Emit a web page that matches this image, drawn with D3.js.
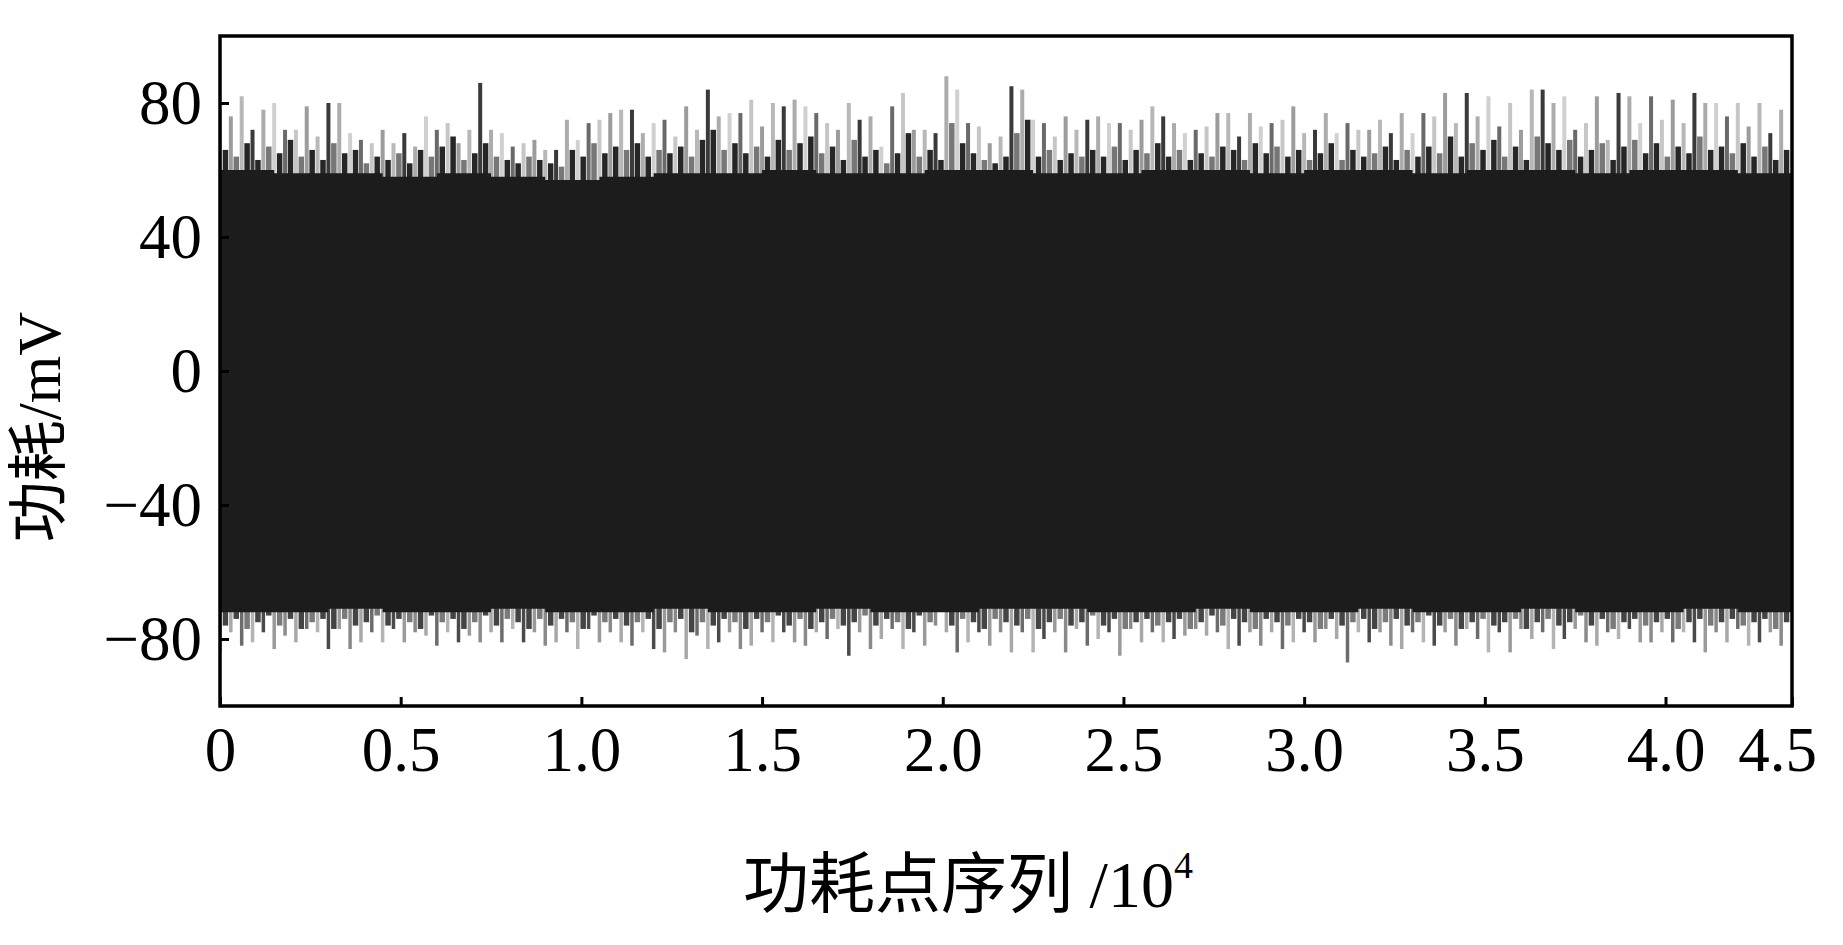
<!DOCTYPE html>
<html lang="zh">
<head>
<meta charset="utf-8">
<title>功耗曲线</title>
<script src="https://cdn.jsdelivr.net/npm/d3@7/dist/d3.min.js"></script>
<style>
  html, body { margin: 0; padding: 0; background: #fff; }
  svg text { font-family: "Liberation Serif", "Noto Sans CJK SC", serif; fill: #000; }
</style>
</head>
<body>
<svg id="chart"></svg>
<script>
// sample spacing of the envelope arrays, in units of 10^4 points
const step = 0.03,
  xMax = 4.35;

// upper spike tips (light) and dark fringe tips, mV
const topPeak = [78, 76, 82, 72, 78, 80, 72, 72, 79, 70, 80, 80, 71, 69, 68, 72, 68, 71, 67, 76,
  72, 74, 68, 72, 86, 72, 71, 67, 68, 69, 66, 66, 75, 69, 74, 75, 77, 78, 78, 71,
  74, 75, 70, 79, 72, 84, 76, 77, 77, 81, 73, 80, 79, 81, 79, 77, 74, 72, 80, 75,
  76, 67, 79, 83, 72, 72, 71, 88, 84, 74, 73, 68, 70, 85, 84, 75, 74, 70, 76, 72,
  75, 76, 74, 74, 72, 75, 79, 76, 74, 71, 72, 73, 77, 77, 70, 77, 73, 74, 75, 79,
  71, 72, 77, 71, 74, 72, 72, 75, 71, 77, 71, 77, 76, 83, 74, 83, 76, 82, 73, 80,
  72, 84, 84, 80, 82, 72, 74, 82, 69, 83, 82, 74, 82, 75, 81, 74, 83, 80, 80, 76,
  80, 73, 80, 71, 78];
const topMid = [66, 64, 68, 63, 67, 65, 69, 64, 66, 63, 68, 65, 66, 62, 64, 63, 65, 62, 66, 64,
  67, 70, 63, 65, 68, 64, 63, 62, 64, 63, 62, 61, 66, 64, 68, 65, 67, 66, 68, 64,
  66, 65, 67, 64, 69, 72, 66, 68, 65, 67, 64, 69, 66, 68, 70, 65, 67, 63, 69, 64,
  66, 62, 65, 71, 64, 66, 63, 74, 68, 65, 63, 62, 64, 71, 75, 64, 66, 63, 65, 64,
  66, 64, 67, 63, 66, 65, 68, 64, 66, 63, 65, 64, 67, 66, 63, 68, 65, 67, 64, 66,
  63, 65, 68, 63, 66, 64, 65, 67, 63, 66, 64, 67, 65, 70, 64, 68, 66, 69, 64, 67,
  63, 70, 68, 66, 69, 64, 66, 68, 63, 67, 69, 65, 68, 64, 67, 65, 70, 66, 67, 65,
  68, 64, 67, 63, 66];

// lower spike tips and dark fringe tips, mV
const botPeak = [-84, -78, -82, -81, -78, -83, -79, -81, -77, -78, -83, -77, -83, -81, -78, -81, -77, -81, -78, -79,
  -82, -78, -81, -79, -81, -78, -81, -77, -81, -78, -82, -81, -78, -83, -77, -81, -78, -81, -82, -78,
  -83, -84, -78, -86, -79, -83, -81, -78, -83, -82, -78, -81, -78, -81, -82, -78, -80, -77, -85, -78,
  -83, -80, -77, -83, -78, -82, -76, -78, -84, -81, -78, -82, -78, -84, -78, -84, -80, -78, -84, -77,
  -82, -80, -78, -85, -77, -81, -78, -81, -80, -79, -77, -79, -78, -83, -82, -78, -82, -78, -83, -81,
  -78, -81, -77, -80, -87, -78, -81, -78, -82, -83, -78, -81, -82, -78, -82, -77, -80, -84, -78, -84,
  -77, -80, -78, -83, -80, -77, -81, -82, -78, -80, -77, -81, -81, -78, -81, -78, -81, -84, -78, -81,
  -77, -82, -81, -78, -82];
const botMid = [-76, -74, -77, -75, -73, -76, -74, -77, -75, -74, -77, -74, -76, -75, -73, -76, -74, -75, -77, -73,
  -75, -74, -77, -75, -73, -76, -74, -75, -77, -74, -76, -74, -75, -77, -73, -75, -74, -76, -75, -74,
  -77, -75, -74, -78, -75, -76, -74, -75, -77, -74, -75, -73, -76, -74, -77, -75, -74, -76, -75, -73,
  -76, -74, -75, -77, -73, -75, -69, -76, -74, -75, -77, -74, -75, -76, -74, -77, -75, -74, -76, -75,
  -73, -76, -74, -77, -75, -74, -76, -75, -74, -77, -75, -73, -76, -74, -75, -77, -74, -75, -76, -74,
  -75, -77, -74, -76, -75, -74, -77, -75, -74, -76, -75, -73, -76, -74, -77, -75, -74, -76, -75, -74,
  -77, -75, -74, -76, -75, -73, -76, -74, -77, -75, -74, -76, -75, -74, -77, -75, -74, -76, -75, -74,
  -76, -75, -74, -77, -75];

// edges of the solid band, every 0.15 x 10^4 points
const bodyStep = 0.15;
const bodyTop = [60, 59, 59, 58, 59, 58, 57, 58, 59, 59, 60, 59, 59, 60, 60, 59, 59, 60, 60, 59,
  60, 60, 59, 60, 60, 59, 60, 60, 59, 60];
const bodyBottom = [-72, -72, -71, -72, -72, -71, -72, -72, -71, -72, -72, -71, -72, -72, -71, -71, -72, -72, -71, -72,
  -72, -71, -72, -72, -71, -72, -72, -71, -72, -72];

const yTicks = [-80, -40, 0, 40, 80];
const yTickLabels = ['\u221280', '\u221240', '0', '40', '80'];
const xTicks = [0, 0.5, 1.0, 1.5, 2.0, 2.5, 3.0, 3.5, 4.0, xMax];
const xTickLabels = ['0', '0.5', '1.0', '1.5', '2.0', '2.5', '3.0', '3.5', '4.0', '4.5'];

const W = 1843, H = 945,
  plot = {left: 220, right: 1792, top: 36, bottom: 706};

const svg = d3.select('#chart')
  .attr('width', W)
  .attr('height', H);

const x = d3.scaleLinear().domain([0, xMax]).range([plot.left, plot.right]);
const y = d3.scaleLinear().domain([-100, 100]).range([plot.bottom, plot.top]);

svg.append('clipPath').attr('id', 'clip')
  .append('rect')
  .attr('x', plot.left).attr('y', plot.top)
  .attr('width', plot.right - plot.left).attr('height', plot.bottom - plot.top);

const g = svg.append('g').attr('clip-path', 'url(#clip)');

const bodyAt = (arr, t) => arr[Math.min(arr.length - 1, Math.floor(t / bodyStep))];

const topTone = (i) => ['#c6c6c6', '#9c9c9c', '#b8b8b8', '#3a3a3a', '#acacac', '#d0d0d0', '#6a6a6a'][i % 7];
const botTone = (i) => ['#8a8a8a', '#a8a8a8', '#6c6c6c', '#b4b4b4', '#4a4a4a', '#9a9a9a'][i % 6];

// tall spikes above and below the band
g.append('g').selectAll('line')
  .data(topPeak)
  .enter().append('line')
  .attr('x1', (d, i) => x(i * step))
  .attr('x2', (d, i) => x(i * step))
  .attr('y1', (d, i) => y(bodyAt(bodyTop, i * step) - 4))
  .attr('y2', (d) => y(d))
  .attr('stroke', (d, i) => topTone(i))
  .attr('stroke-width', 4);

g.append('g').selectAll('line')
  .data(botPeak)
  .enter().append('line')
  .attr('x1', (d, i) => x(i * step))
  .attr('x2', (d, i) => x(i * step))
  .attr('y1', (d, i) => y(bodyAt(bodyBottom, i * step) + 4))
  .attr('y2', (d) => y(d))
  .attr('stroke', (d, i) => botTone(i))
  .attr('stroke-width', 3.5);

// dark fringe, between the tall spikes
g.append('g').selectAll('line')
  .data(topMid)
  .enter().append('line')
  .attr('x1', (d, i) => x((i + 0.5) * step))
  .attr('x2', (d, i) => x((i + 0.5) * step))
  .attr('y1', (d, i) => y(bodyAt(bodyTop, (i + 0.5) * step) - 4))
  .attr('y2', (d) => y(d))
  .attr('stroke', (d, i) => i % 3 === 1 ? '#777' : '#262626')
  .attr('stroke-width', 5.5);

g.append('g').selectAll('line')
  .data(botMid)
  .enter().append('line')
  .attr('x1', (d, i) => x((i + 0.5) * step))
  .attr('x2', (d, i) => x((i + 0.5) * step))
  .attr('y1', (d, i) => y(bodyAt(bodyBottom, (i + 0.5) * step) + 4))
  .attr('y2', (d) => y(d))
  .attr('stroke', (d, i) => i % 3 === 2 ? '#7a7a7a' : '#444')
  .attr('stroke-width', 5.5);

// solid band
const bandPts = bodyTop.map((v, i) => ({t: i * bodyStep, hi: v, lo: bodyBottom[i]}));
bandPts.push({t: xMax, hi: bodyTop[bodyTop.length - 1], lo: bodyBottom[bodyBottom.length - 1]});

g.append('path')
  .datum(bandPts)
  .attr('d', d3.area()
    .x((d) => x(Math.min(xMax, d.t)))
    .y0((d) => y(d.lo))
    .y1((d) => y(d.hi))
    .curve(d3.curveStepAfter))
  .attr('fill', '#1c1c1c');

// axes
const yAxis = svg.append('g')
  .attr('transform', `translate(${plot.left},0)`)
  .call(d3.axisLeft(y).tickValues(yTicks)
    .tickFormat((d, i) => yTickLabels[i])
    .tickSizeInner(-9).tickSizeOuter(0).tickPadding(18));

const xAxis = svg.append('g')
  .attr('transform', `translate(0,${plot.bottom})`)
  .call(d3.axisBottom(x).tickValues(xTicks)
    .tickFormat((d, i) => xTickLabels[i])
    .tickSizeInner(-9).tickSizeOuter(0).tickPadding(20));

[yAxis, xAxis].forEach((a) => {
  a.select('.domain').remove();
  a.selectAll('.tick line').attr('stroke', '#000').attr('stroke-width', 3);
  a.selectAll('.tick text')
    .attr('font-size', 63)
    .attr('font-family', 'Liberation Serif, serif')
    .attr('fill', '#000');
});

xAxis.selectAll('.tick')
  .filter((d) => d === xMax)
  .select('text').attr('dx', -15);

// frame
svg.append('rect')
  .attr('x', plot.left).attr('y', plot.top)
  .attr('width', plot.right - plot.left).attr('height', plot.bottom - plot.top)
  .attr('fill', 'none')
  .attr('stroke', '#000')
  .attr('stroke-width', 3.5);

// axis titles
svg.append('text')
  .attr('transform', `translate(60,${427}) rotate(-90)`)
  .attr('text-anchor', 'middle')
  .attr('font-size', 61)
  .text('功耗/mV');

const xt = svg.append('text')
  .attr('x', 968).attr('y', 907)
  .attr('text-anchor', 'middle')
  .attr('font-size', 66)
  .text('功耗点序列 /10');
xt.append('tspan')
  .attr('font-size', 38)
  .attr('dy', -29)
  .text('4');
</script>
</body>
</html>
